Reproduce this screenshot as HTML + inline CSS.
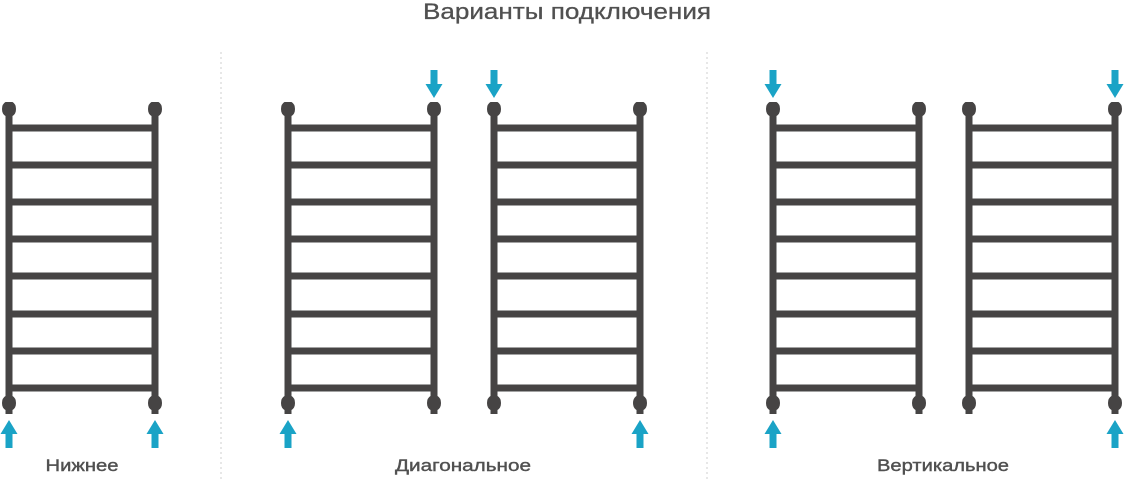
<!DOCTYPE html>
<html><head><meta charset="utf-8"><style>
html,body{margin:0;padding:0;background:#fff;}
svg{display:block}
text{font-family:"Liberation Sans","DejaVu Sans",sans-serif;fill:#505050}
</style></head><body>
<svg width="1126" height="480" viewBox="0 0 1126 480" xmlns="http://www.w3.org/2000/svg">
<defs>
<g id="knob"><path d="M-3.5,-9 L3.5,-9 Q7,-7 7,-2 Q7,3 3.5,5 L3.5,9 L-3.5,9 L-3.5,5 Q-7,3 -7,-2 Q-7,-7 -3.5,-9 Z" fill="#464444"/></g>
<g id="towel">
<rect x="-3.5" y="104" width="7" height="306" fill="#464444"/>
<rect x="142.5" y="104" width="7" height="306" fill="#464444"/>
<use href="#knob" x="0" y="111"/><use href="#knob" x="146" y="111"/>
<use href="#knob" x="0" y="405"/><use href="#knob" x="146" y="405"/>
<g fill="#464444">
<rect x="0" y="124.5" width="146" height="7"/>
<rect x="0" y="161.5" width="146" height="7"/>
<rect x="0" y="198.5" width="146" height="7"/>
<rect x="0" y="235.5" width="146" height="7"/>
<rect x="0" y="272.5" width="146" height="7"/>
<rect x="0" y="310.5" width="146" height="7"/>
<rect x="0" y="347.5" width="146" height="7"/>
<rect x="0" y="384.5" width="146" height="7"/>
</g></g>
<path id="up" d="M-3.5,448 L3.5,448 L3.5,434 L8.5,434 L0,420 L-8.5,434 L-3.5,434 Z" fill="#1aa3c6"/>
<path id="down" d="M-3.5,70 L3.5,70 L3.5,84 L8.5,84 L0,98 L-8.5,84 L-3.5,84 Z" fill="#1aa3c6"/>
</defs>
<text x="567" y="19" font-size="22" text-anchor="middle" textLength="288" lengthAdjust="spacingAndGlyphs" stroke="#505050" stroke-width="0.3">Варианты подключения</text>
<line x1="221" y1="52" x2="221" y2="480" stroke="#cfcfcf" stroke-width="1" stroke-dasharray="2,3"/>
<line x1="707" y1="52" x2="707" y2="480" stroke="#cfcfcf" stroke-width="1" stroke-dasharray="2,3"/>
<use href="#towel" x="9" y="0"/>
<use href="#towel" x="288" y="0"/>
<use href="#towel" x="494" y="0"/>
<use href="#towel" x="773" y="0"/>
<use href="#towel" x="969" y="0"/>
<use href="#up" x="9"/><use href="#up" x="155"/>
<use href="#up" x="288"/><use href="#down" x="434"/>
<use href="#down" x="494"/><use href="#up" x="640"/>
<use href="#down" x="773"/><use href="#up" x="773"/>
<use href="#down" x="1115"/><use href="#up" x="1115"/>
<text x="82" y="471" font-size="17" text-anchor="middle" textLength="73" lengthAdjust="spacingAndGlyphs" stroke="#505050" stroke-width="0.4">Нижнее</text>
<text x="463" y="471" font-size="17" text-anchor="middle" textLength="136" lengthAdjust="spacingAndGlyphs" stroke="#505050" stroke-width="0.4">Диагональное</text>
<text x="943" y="471" font-size="17" text-anchor="middle" textLength="132" lengthAdjust="spacingAndGlyphs" stroke="#505050" stroke-width="0.4">Вертикальное</text>
</svg>
</body></html>
